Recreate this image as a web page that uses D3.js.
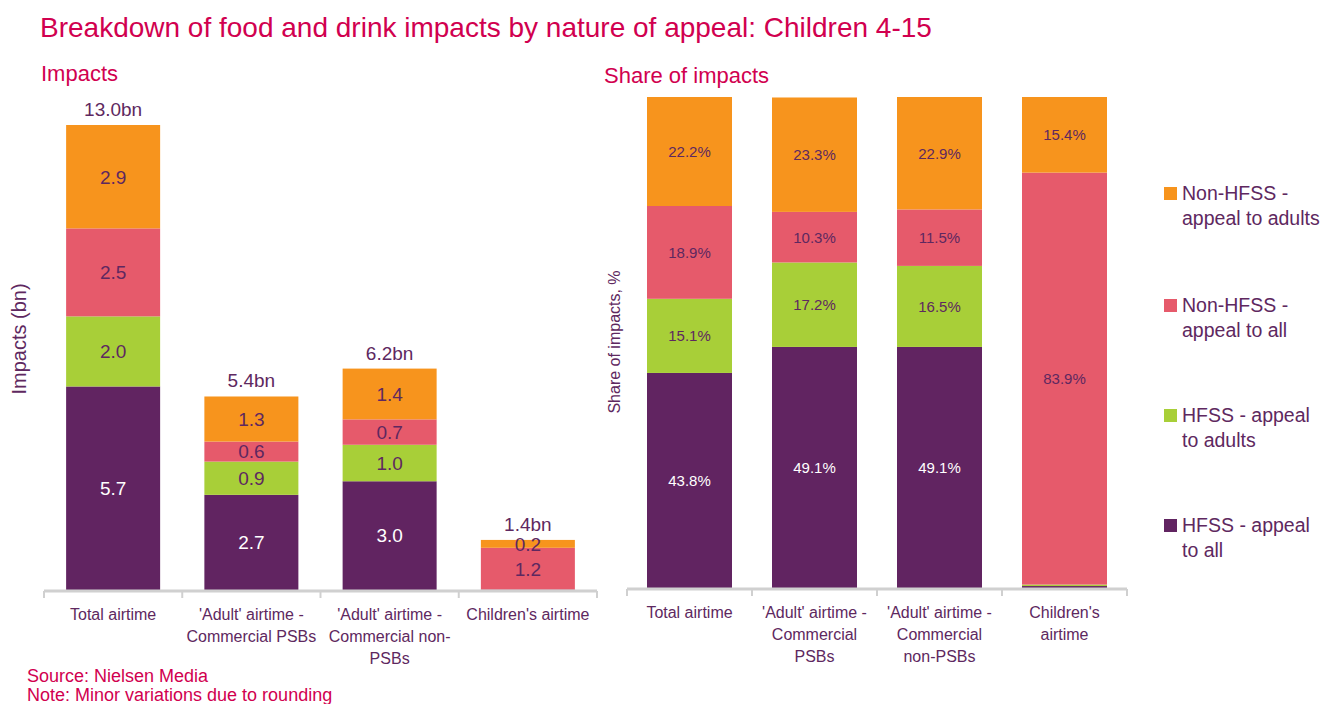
<!DOCTYPE html>
<html>
<head>
<meta charset="utf-8">
<script src="https://cdn.jsdelivr.net/npm/d3@7"></script>
<style>
  body { margin: 0; background: #fff; }
  svg { font-family: "Liberation Sans", Arial, sans-serif; }
</style>
</head>
<body>
<div id="chart"></div>
<script>
// categories as shown under each panel (line breaks kept per panel)
const categories = ["Total airtime", "'Adult' airtime - Commercial PSBs", "'Adult' airtime - Commercial non-PSBs", "Children's airtime"]
const leftCatLines = [["Total airtime"], ["'Adult' airtime -", "Commercial PSBs"], ["'Adult' airtime -", "Commercial non-", "PSBs"], ["Children's airtime"]]
const rightCatLines = [["Total airtime"], ["'Adult' airtime -", "Commercial", "PSBs"], ["'Adult' airtime -", "Commercial", "non-PSBs"], ["Children's", "airtime"]]

// series, stacked bottom to top
const seriesNames = ["HFSS - appeal to all", "HFSS - appeal to adults", "Non-HFSS - appeal to all", "Non-HFSS - appeal to adults"]
const legendLines = [["HFSS - appeal", "to all"], ["HFSS - appeal", "to adults"], ["Non-HFSS -", "appeal to all"], ["Non-HFSS -", "appeal to adults"]]
const seriesColors = ["#612461", "#a8cf38", "#e65a6b", "#f7941d"]

// impacts (bn)
const hfssAll = [5.69, 2.66, 3.04, 0.01]
const hfssAdults = [1.96, 0.93, 1.02, 0.0]
const nonHfssAll = [2.46, 0.56, 0.71, 1.17]
const nonHfssAdults = [2.89, 1.26, 1.42, 0.22]
const totals = ["13.0bn", "5.4bn", "6.2bn", "1.4bn"]

// share of impacts (%)
const shareHfssAll = [43.8, 49.1, 49.1, 0.4]
const shareHfssAdults = [15.1, 17.2, 16.5, 0.3]
const shareNonHfssAll = [18.9, 10.3, 11.5, 83.9]
const shareNonHfssAdults = [22.2, 23.3, 22.9, 15.4]

const W = 1325, H = 704
const red = "#d1004f", purple = "#5e2860"

const svg = d3.select("#chart").append("svg").attr("width", W).attr("height", H)

svg.append("text").attr("x", 40).attr("y", 37).attr("fill", red)
  .style("font-size", "28px")
  .text("Breakdown of food and drink impacts by nature of appeal: Children 4-15")

svg.append("text").attr("x", 41).attr("y", 81).attr("fill", red).style("font-size", "22px").text("Impacts")
svg.append("text").attr("x", 604).attr("y", 83).attr("fill", red).style("font-size", "22px").text("Share of impacts")

function buildRows(arrs) {
  return categories.map((c, i) => {
    const row = { cat: c }
    seriesNames.forEach((s, j) => { row[s] = arrs[j][i] })
    return row
  })
}

function drawPanel(opts) {
  const rows = buildRows(opts.arrays)
  const x = d3.scaleBand().domain(categories).range(opts.xRange).paddingInner(0.32).paddingOuter(0.16)
  const y = d3.scaleLinear().domain(opts.yDomain).range(opts.yRange)
  const stacked = d3.stack().keys(seriesNames)(rows)
  const g = svg.append("g")

  const layers = g.selectAll("g.layer").data(stacked).join("g")
    .attr("fill", (d, i) => seriesColors[i])

  layers.selectAll("rect").data(d => d).join("rect")
    .attr("x", d => x(d.data.cat))
    .attr("width", x.bandwidth())
    .attr("y", d => y(d[1]))
    .attr("height", d => y(d[0]) - y(d[1]))

  stacked.forEach((layer, i) => {
    g.selectAll(null).data(layer.filter(d => d[1] - d[0] >= opts.minLabel)).join("text")
      .attr("x", d => x(d.data.cat) + x.bandwidth() / 2)
      .attr("y", d => (y(d[0]) + y(d[1])) / 2)
      .attr("dy", "0.36em")
      .attr("text-anchor", "middle")
      .attr("fill", i === 0 && opts.whiteFirst ? "#fff" : purple)
      .style("font-size", opts.labelSize)
      .text(d => opts.fmt(d[1] - d[0]))
  })

  // axis line with ticks at band edges
  const [r0, r1] = opts.xRange
  const axisY = opts.yRange[0] + 1
  g.append("line").attr("x1", r0).attr("x2", r1).attr("y1", axisY).attr("y2", axisY)
    .attr("stroke", "#d0d0d0").attr("stroke-width", 3)
  const edges = d3.range(categories.length + 1).map(i => r0 + i * x.step())
  g.selectAll(null).data(edges).join("line")
    .attr("x1", d => d).attr("x2", d => d).attr("y1", axisY).attr("y2", axisY + 7)
    .attr("stroke", "#d0d0d0").attr("stroke-width", 2)

  categories.forEach((c, i) => {
    const t = g.append("text").attr("text-anchor", "middle").attr("fill", purple)
      .style("font-size", "16px")
    opts.catLines[i].forEach((ln, k) => {
      t.append("tspan").attr("x", x(c) + x.bandwidth() / 2).attr("y", axisY + 29 + k * 22).text(ln)
    })
  })

  g.append("text")
    .attr("transform", `translate(${opts.yTitleX},${opts.yTitleY}) rotate(-90)`)
    .attr("text-anchor", "middle").attr("fill", purple)
    .style("font-size", opts.yTitleSize).text(opts.yTitle)

  return { x, y, stacked, g }
}

const left = drawPanel({
  arrays: [hfssAll, hfssAdults, nonHfssAll, nonHfssAdults],
  xRange: [44, 597], yDomain: [0, 13], yRange: [590, 125],
  minLabel: 0.1, fmt: v => v.toFixed(1), labelSize: "19px", whiteFirst: true,
  catLines: leftCatLines, yTitle: "Impacts (bn)", yTitleX: 26, yTitleY: 339, yTitleSize: "20px"
})

// totals above each left bar
const topLayer = left.stacked[left.stacked.length - 1]
left.g.selectAll(null).data(topLayer).join("text")
  .attr("x", d => left.x(d.data.cat) + left.x.bandwidth() / 2)
  .attr("y", d => left.y(d[1]) - 9)
  .attr("text-anchor", "middle").attr("fill", purple).style("font-size", "19px")
  .text((d, i) => totals[i])

drawPanel({
  arrays: [shareHfssAll, shareHfssAdults, shareNonHfssAll, shareNonHfssAdults],
  xRange: [627, 1127], yDomain: [0, 100], yRange: [588, 97],
  minLabel: 5, fmt: v => v.toFixed(1) + "%", labelSize: "15px", whiteFirst: true,
  catLines: rightCatLines, yTitle: "Share of impacts, %", yTitleX: 620, yTitleY: 342, yTitleSize: "16px"
})

// legend, top item first
const legendY = [532, 422, 312, 200]
const legend = svg.append("g")
seriesNames.forEach((s, i) => {
  const lg = legend.append("g").attr("transform", `translate(1164,${legendY[i]})`)
  lg.append("rect").attr("x", 0).attr("y", -13).attr("width", 13).attr("height", 13).attr("fill", seriesColors[i])
  const t = lg.append("text").attr("fill", purple).style("font-size", "19.5px")
  legendLines[i].forEach((ln, k) => t.append("tspan").attr("x", 18).attr("y", k * 24.5).text(ln))
})

svg.append("text").attr("x", 27).attr("y", 682).attr("fill", red).style("font-size", "18px").text("Source: Nielsen Media")
svg.append("text").attr("x", 27).attr("y", 701).attr("fill", red).style("font-size", "18px").text("Note: Minor variations due to rounding")
</script>
</body>
</html>
